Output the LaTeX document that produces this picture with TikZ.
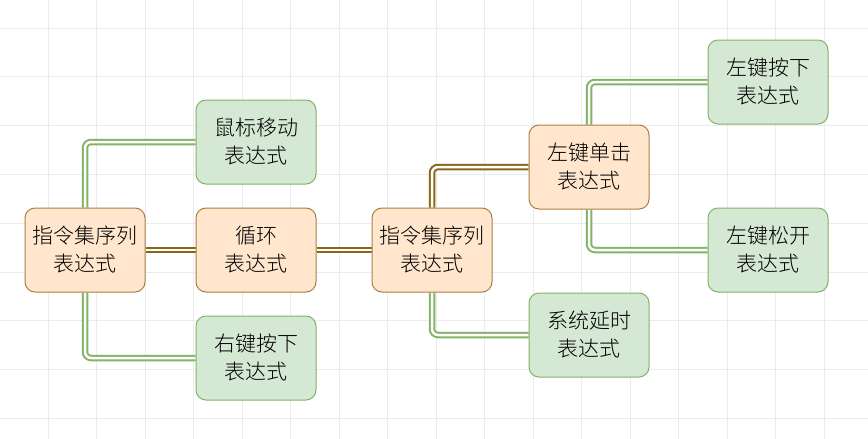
\documentclass[tikz,border=0pt]{standalone}
\usepackage{fontspec}
\newfontfamily\cjk{Noto Sans CJK SC Light}
\definecolor{ofill}{HTML}{FFE6CC}
\definecolor{ostroke}{HTML}{A88142}
\definecolor{gfill}{HTML}{D5E8D4}
\definecolor{gstroke}{HTML}{82B366}
\definecolor{brn}{HTML}{8A661A}
\definecolor{gridc}{HTML}{EBEBEB}
\pgfdeclarelayer{gridlayer}
\pgfdeclarelayer{edgelayer}
\pgfsetlayers{gridlayer,edgelayer,main}
\begin{document}
\begin{tikzpicture}[x=1pt,y=-1pt,
  box/.style={rectangle,rounded corners=10pt,minimum width=120pt,minimum height=84pt,line width=1pt,
    align=center,font=\cjk\fontsize{21}{28}\selectfont,inner sep=0pt},
  obox/.style={box,draw=ostroke,fill=ofill},
  gbox/.style={box,draw=gstroke,fill=gfill},
  blink/.style={draw=brn,line width=2pt,double=white,double distance=2.5pt,rounded corners=6pt},
  glink/.style={draw=gstroke,line width=2pt,double=white,double distance=2.5pt,rounded corners=6pt},
  gridline/.style={gridc,line width=1pt}]
\useasboundingbox (0,0) rectangle (868,439);
\begin{pgfonlayer}{gridlayer}
\fill[white] (0,0) rectangle (868,439);
\foreach \i in {0,...,16} {\draw[gridline] (48.5*\i+48,0) -- (48.5*\i+48,439);}
\foreach \j in {0,...,8} {\draw[gridline] (0,48.8*\j+28) -- (868,48.8*\j+28);}
\end{pgfonlayer}
% nodes
\node[obox] (a) at (85,250) {指令集序列\\表达式};
\node[obox] (b) at (256,250) {循环\\表达式};
\node[obox] (c) at (432,250) {指令集序列\\表达式};
\node[gbox] (m) at (256,142) {鼠标移动\\表达式};
\node[gbox] (r) at (256,358) {右键按下\\表达式};
\node[obox] (d) at (589,167) {左键单击\\表达式};
\node[gbox] (p) at (768,82) {左键按下\\表达式};
\node[gbox] (s) at (768,250) {左键松开\\表达式};
\node[gbox] (t) at (589,335) {系统延时\\表达式};
% connectors
\begin{pgfonlayer}{edgelayer}
\draw[glink] (a.north) |- (m.west);
\draw[glink] (a.south) |- (r.west);
\draw[blink] (a.east) -- (b.west);
\draw[blink] (b.east) -- (c.west);
\draw[blink] (c.north) |- (d.west);
\draw[glink] (c.south) |- (t.west);
\draw[glink] (d.north) |- (p.west);
\draw[glink] (d.south) |- (s.west);
\end{pgfonlayer}
\end{tikzpicture}
\end{document}
